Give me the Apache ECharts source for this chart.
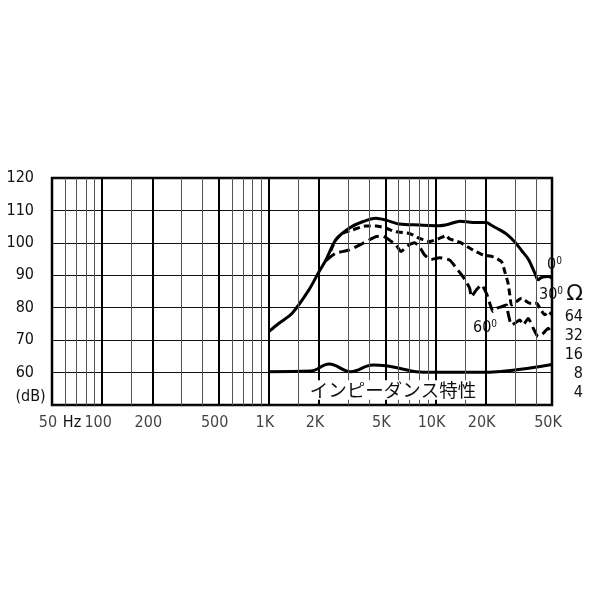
<!DOCTYPE html>
<html><head><meta charset="utf-8">
<script src="https://cdn.jsdelivr.net/npm/echarts@6/dist/echarts.min.js"></script>
<style>html,body{margin:0;padding:0;background:#fff}#c{width:600px;height:600px}</style>
</head><body><div id="c"></div>
<script>
// Frequency response (Hz, dB)
const resp0 = [[1000,72.6],[1150,75.2],[1380,78.3],[1740,85.5],[2000,91.1],[2200,94.7],[2520,100.9],[3030,104.5],[3650,106.5],[4390,107.6],[5050,107.0],[6070,105.8],[8000,105.5],[10500,105.3],[12100,105.8],[14000,106.7],[16800,106.3],[20200,106.3],[21500,105.5],[24300,104.0],[26700,102.7],[30000,100.2],[33000,97.5],[36000,95.0],[39500,90.6],[41300,88.6],[43500,89.4],[47500,89.6],[50000,89.1]];
const resp30 = [[2350,97.5],[2520,100.9],[2760,102.9],[3180,104.0],[3820,105.2],[4390,105.2],[5050,104.5],[5800,103.4],[6970,102.9],[8010,101.4],[9200,100.4],[10570,101.4],[11600,102.2],[12140,101.2],[13950,100.2],[16780,97.8],[19270,96.3],[22140,95.7],[24880,94.2],[26050,91.1],[27260,87.5],[27920,83.9],[28580,80.8],[30630,81.9],[32830,82.9],[36840,81.4],[40430,81.4],[42320,79.8],[45360,77.8],[47490,78.8],[50000,77.8]];
const resp60 = [[2200,94.5],[2520,96.8],[3030,97.8],[3650,99.8],[4390,101.9],[4820,102.1],[5280,100.9],[5800,99.3],[6220,97.3],[6660,98.8],[7470,100.0],[8010,98.8],[8590,96.3],[9420,94.9],[10570,95.4],[12140,94.7],[13330,92.2],[14600,89.6],[16030,86.0],[16410,83.4],[17590,85.5],[18850,87.0],[20210,84.4],[21150,81.4],[22140,78.8],[23210,79.8],[24880,80.3],[26670,80.8],[27260,78.3],[28580,74.7],[29920,75.2],[32060,76.2],[33570,74.7],[35970,76.7],[38560,73.7],[41340,71.1],[44310,72.1],[47490,73.7],[50000,71.6]];
// Impedance (Hz, ohm)
const impedance = [[1000,8.7],[1780,8.9],[2300,11.5],[3100,8.7],[4200,11.1],[5050,10.8],[6070,9.9],[7640,8.7],[9640,8.5],[18400,8.5],[50000,11.3]];

const majorFreqs = [100,200,500,1000,2000,5000,10000,20000];
const minorFreqs = [60,70,80,90,150,300,400,600,700,800,900,1500,3000,4000,6000,7000,8000,9000,15000,30000,40000];
const freqTickValues = [50,100,200,500,1000,2000,5000,10000,20000,50000];
const freqTickLabels = ['50','100','200','500','1K','2K','5K','10K','20K','50K'];
const dbTicks = [60,70,80,90,100,110,120];
const ohmTicks = [4,8,16,32,64];

const FONT = "'Liberation Sans Narrow','DejaVu Sans Condensed',sans-serif";
const FS = 16;
const chart = echarts.init(document.getElementById('c'), null, {renderer:'canvas'});

const hiddenX = (gi) => ({type:'log', logBase:10, min:50, max:50000, gridIndex:gi,
  axisLine:{show:false}, axisTick:{show:false}, axisLabel:{show:false}, splitLine:{show:false}});

const degText = (main) => ({
  text: '{a|' + main + '}{s|0}',
  rich: { a:{fontSize:16, fontFamily:FONT, fill:'#111', lineHeight:18},
          s:{fontSize:10, fontFamily:FONT, fill:'#111', lineHeight:18, verticalAlign:'top'} },
  fill:'#111'
});

chart.setOption({
  animation:false,
  backgroundColor:'#fff',
  grid:[
    {left:52, right:48, top:178, bottom:195, show:true, borderColor:'#000', borderWidth:2.5, backgroundColor:'transparent'},
    {left:52, right:48, top:275, bottom:195, show:false}
  ],
  xAxis:[hiddenX(0), hiddenX(1)],
  yAxis:[
    {type:'value', min:50, max:120, interval:10, gridIndex:0,
     axisLine:{show:false}, axisTick:{show:false},
     splitLine:{show:true, lineStyle:{color:'#111', width:1.2}},
     axisLabel:{fontSize:FS, color:'#111', fontFamily:FONT, margin:18, padding:[6,0,0,0],
       formatter: v => dbTicks.includes(v) ? String(v) : ''}},
    {type:'log', logBase:2, gridIndex:1, min:2.582, max:296.6, splitNumber:10, position:'right',
     axisLine:{show:false}, axisTick:{show:false}, splitLine:{show:false},
     axisLabel:{fontSize:FS, color:'#111', fontFamily:FONT, margin:31, align:'right',
       formatter: v => { const r = Math.round(v); if (ohmTicks.includes(r)) return String(r); if (r === 128) return '{o|Ω}'; return ''; },
       rich:{o:{fontSize:22, fontFamily:'DejaVu Sans', color:'#111', padding:[0,0,8,0]}}}}
  ],
  series:[
    {type:'line', xAxisIndex:0, yAxisIndex:0, data:[[50,50]], showSymbol:false, lineStyle:{opacity:0}, silent:true,
     markLine:{silent:true, symbol:['none','none'], label:{show:false}, lineStyle:{color:'#555', width:1, type:'solid'},
       data: minorFreqs.map(f => ({xAxis:f}))}},
    {type:'line', xAxisIndex:0, yAxisIndex:0, data:[[50,50]], showSymbol:false, lineStyle:{opacity:0}, silent:true,
     markLine:{silent:true, symbol:['none','none'], label:{show:false}, lineStyle:{color:'#000', width:2, type:'solid'},
       data: majorFreqs.map(f => ({xAxis:f}))}},
    {name:'0°', type:'line', xAxisIndex:0, yAxisIndex:0, data:resp0, showSymbol:false, smooth:0.3,
     lineStyle:{color:'#000', width:3}},
    {name:'30°', type:'line', xAxisIndex:0, yAxisIndex:0, data:resp30, showSymbol:false, smooth:0.2,
     lineStyle:{color:'#000', width:3, type:[7,4]}},
    {name:'60°', type:'line', xAxisIndex:0, yAxisIndex:0, data:resp60, showSymbol:false, smooth:0.2,
     lineStyle:{color:'#000', width:3, type:[11,5]}},
    {name:'impedance', type:'line', xAxisIndex:1, yAxisIndex:1, data:impedance, showSymbol:false, smooth:0.4,
     lineStyle:{color:'#000', width:3}},
    {type:'scatter', xAxisIndex:0, yAxisIndex:0, clip:false, symbolSize:0, silent:true,
     data: freqTickValues.map(f => [f, 50]),
     label:{show:true, position:'bottom', distance:10, offset:[-4,0], fontSize:FS, fontFamily:FONT, color:'#111',
       formatter: p => freqTickLabels[p.dataIndex]}}
  ],
  graphic:[
    {type:'text', x:72, y:423, style:{text:'Hz', fontSize:FS, fontFamily:FONT, fill:'#111', align:'center', verticalAlign:'middle'}},
    {type:'text', x:30.5, y:397, style:{text:'(dB)', fontSize:FS, fontFamily:FONT, fill:'#111', align:'center', verticalAlign:'middle'}},
    {type:'text', x:547, y:265, style:Object.assign(degText('0'), {align:'left', verticalAlign:'middle'})},
    {type:'text', x:539, y:295, style:Object.assign(degText('30'), {align:'left', verticalAlign:'middle'})},
    {type:'text', x:473, y:328, style:Object.assign(degText('60'), {align:'left', verticalAlign:'middle'})},
    {type:'text', x:393, y:390, z:100, style:{text:'インピーダンス特性', fontSize:18.5, fontFamily:"'Noto Sans CJK JP'", fill:'#111',
      align:'center', verticalAlign:'middle', backgroundColor:'#fff', padding:[1,2,0,2]}}
  ]
});
</script></body></html>
